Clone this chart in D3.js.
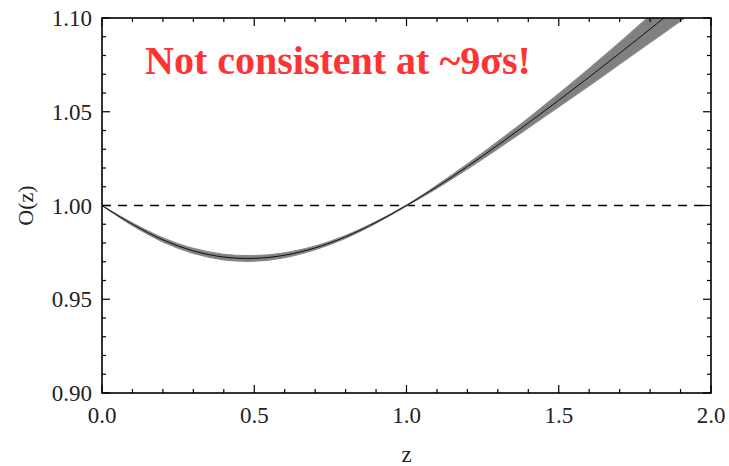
<!DOCTYPE html>
<html>
<head>
<meta charset="utf-8">
<script src="https://cdn.jsdelivr.net/npm/d3@7"></script>
<style>
  body { margin: 0; background: #fff; }
  svg { display: block; }
  .lbl { font-family: "Liberation Serif", "Times New Roman", serif; fill: #222; }
</style>
</head>
<body>
<svg id="chart" width="729" height="466"></svg>
<script>
// redshift grid and the O(z) diagnostic
var zVals = [0.0, 0.1, 0.2, 0.3, 0.4, 0.5, 0.6, 0.7, 0.8, 0.9, 1.0,
             1.1, 1.2, 1.3, 1.4, 1.5, 1.6, 1.7, 1.8, 1.9, 2.0];
var oVals = [1.000, 0.990, 0.9817, 0.9758, 0.9725, 0.9718, 0.9735, 0.9774, 0.9833, 0.9910, 1.000,
             1.0100, 1.0208, 1.0322, 1.0440, 1.0561, 1.0685, 1.0812, 1.0941, 1.1072, 1.1205];
// half width of the grey band
var errVals = [0.0, 0.0007, 0.0011, 0.0013, 0.0015, 0.0015, 0.0013, 0.0010, 0.0007, 0.0004, 0.0003,
               0.0008, 0.0013, 0.0019, 0.0026, 0.0035, 0.0046, 0.0058, 0.0072, 0.0088, 0.0105];

var xTicks = [0.0, 0.5, 1.0, 1.5, 2.0];
var yTicks = [0.90, 0.95, 1.00, 1.05, 1.10];
var refLine = 1.0;
var note = "Not consistent at ~9σs!";

var svg = d3.select("#chart");
var pLeft = 102, pRight = 711, pTop = 18, pBottom = 393;

var x = d3.scaleLinear().domain([0, 2]).range([pLeft, pRight]);
var y = d3.scaleLinear().domain([0.90, 1.10]).range([pBottom, pTop]);

var data = zVals.map(function(z, i) {
  return {z: z, o: oVals[i], e: errVals[i]};
});

svg.append("clipPath").attr("id", "clip")
  .append("rect").attr("x", pLeft).attr("y", pTop)
  .attr("width", pRight - pLeft).attr("height", pBottom - pTop);

var plot = svg.append("g").attr("clip-path", "url(#clip)");

// dashed reference line
plot.append("line")
  .attr("x1", x(0)).attr("x2", x(2))
  .attr("y1", y(refLine)).attr("y2", y(refLine))
  .attr("stroke", "#000").attr("stroke-width", 1.4)
  .attr("stroke-dasharray", "9,7");

// error band
var band = d3.area()
  .x(function(d) { return x(d.z); })
  .y0(function(d) { return y(d.o - d.e); })
  .y1(function(d) { return y(d.o + d.e); })
  .curve(d3.curveCatmullRom);

plot.append("path").datum(data)
  .attr("d", band)
  .attr("fill", "#808080")
  .attr("stroke", "#8a8a8a").attr("stroke-width", 1.2);

var line = d3.line()
  .x(function(d) { return x(d.z); })
  .y(function(d) { return y(d.o); })
  .curve(d3.curveCatmullRom);

plot.append("path").datum(data)
  .attr("d", line)
  .attr("fill", "none")
  .attr("stroke", "#111").attr("stroke-width", 1);

// frame
svg.append("rect")
  .attr("x", pLeft).attr("y", pTop)
  .attr("width", pRight - pLeft).attr("height", pBottom - pTop)
  .attr("fill", "none").attr("stroke", "#000").attr("stroke-width", 1.6);

// inward ticks on all four sides
var xMinor = d3.range(0, 2.0001, 0.1);
var yMinor = d3.range(0.90, 1.1001, 0.01);
function isMajor(v, step) { return Math.abs(v / step - Math.round(v / step)) < 1e-6; }

var tg = svg.append("g").attr("stroke", "#000").attr("stroke-width", 1.2);
xMinor.forEach(function(v) {
  var len = isMajor(v, 0.5) ? 8 : 4;
  tg.append("line").attr("x1", x(v)).attr("x2", x(v)).attr("y1", pBottom).attr("y2", pBottom - len);
  tg.append("line").attr("x1", x(v)).attr("x2", x(v)).attr("y1", pTop).attr("y2", pTop + len);
});
yMinor.forEach(function(v) {
  var len = isMajor(v, 0.05) ? 8 : 4;
  tg.append("line").attr("y1", y(v)).attr("y2", y(v)).attr("x1", pLeft).attr("x2", pLeft + len);
  tg.append("line").attr("y1", y(v)).attr("y2", y(v)).attr("x1", pRight).attr("x2", pRight - len);
});

// tick labels
svg.selectAll(".xl").data(xTicks).enter().append("text")
  .attr("class", "lbl")
  .attr("x", function(d) { return x(d); })
  .attr("y", 423)
  .attr("text-anchor", "middle")
  .style("font-size", "23px")
  .text(function(d) { return d.toFixed(1); });

svg.selectAll(".yl").data(yTicks).enter().append("text")
  .attr("class", "lbl")
  .attr("x", 92)
  .attr("y", function(d) { return y(d); })
  .attr("dy", "0.35em")
  .attr("text-anchor", "end")
  .style("font-size", "23px")
  .text(function(d) { return d.toFixed(2); });

// axis titles
svg.append("text").attr("class", "lbl")
  .attr("x", x(1)).attr("y", 462)
  .attr("text-anchor", "middle")
  .style("font-size", "23px")
  .text("z");

svg.append("text").attr("class", "lbl")
  .attr("transform", "translate(33," + y(1.0) + ") rotate(-90)")
  .attr("text-anchor", "middle")
  .style("font-size", "22px")
  .text("O(z)");

// annotation
svg.append("text")
  .attr("x", 145).attr("y", 74)
  .style("font-family", "'Liberation Serif', 'Times New Roman', serif")
  .style("font-weight", "bold")
  .style("font-size", "40px")
  .attr("fill", "#ff3333")
  .text(note);
</script>
</body>
</html>
